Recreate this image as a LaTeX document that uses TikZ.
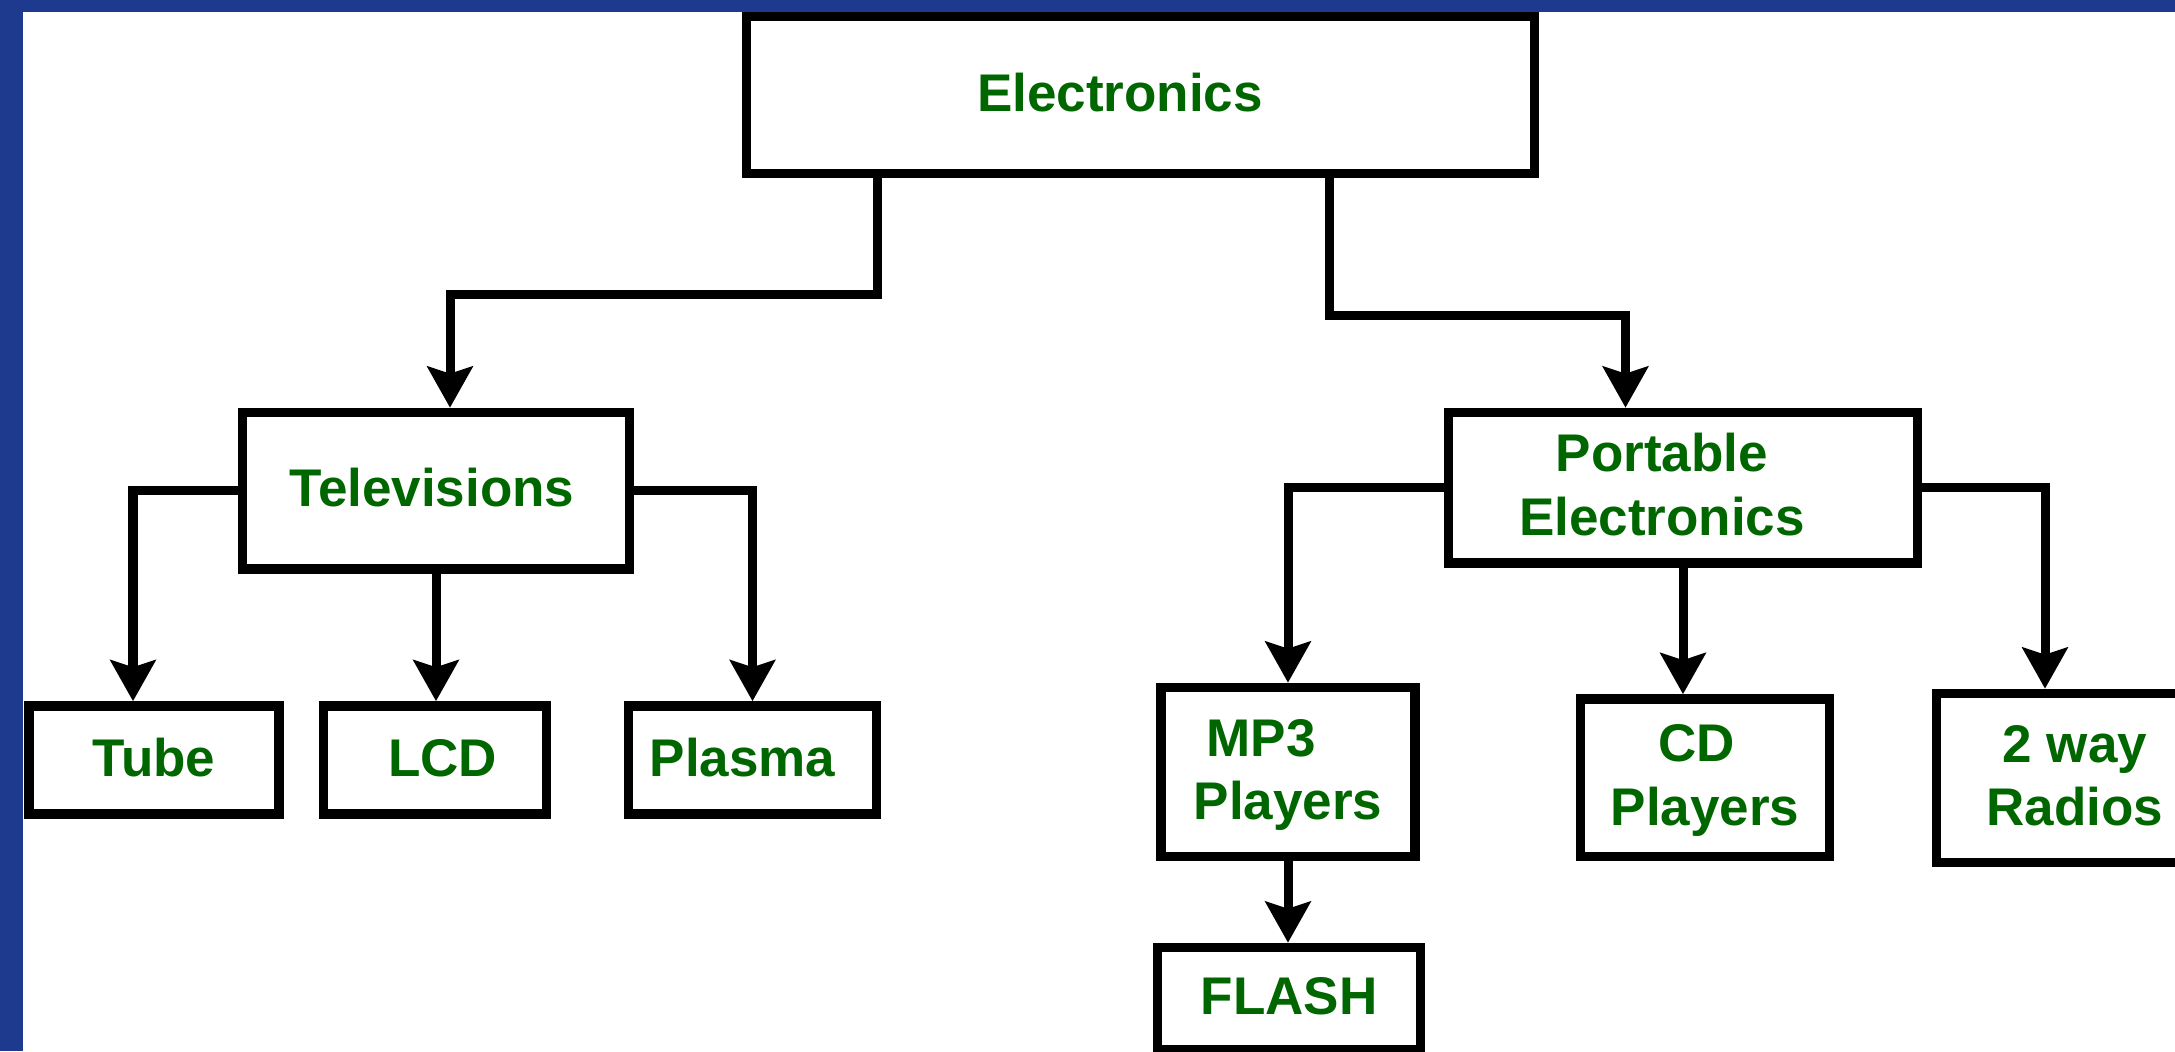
\documentclass[tikz,border=0pt]{standalone}
\usepackage{fontspec}
\setmainfont{Liberation Sans}
\usetikzlibrary{arrows.meta}
\definecolor{frameblue}{RGB}{30,58,143}
\definecolor{txtgreen}{RGB}{0,102,0}
\newcommand{\ls}{\rule[-0.246em]{0pt}{1.096em}}
\begin{document}
\begin{tikzpicture}[x=0.01cm,y=-0.01cm,
  box/.style={draw=black,line width=0.095cm,fill=white,inner sep=0pt,rectangle,
    text=txtgreen,font=\bfseries\fontsize{15.08pt}{18.1pt}\selectfont,align=center},
  conn/.style={line width=0.09cm,-{Stealth[length=0.41cm,width=0.45cm,inset=0.07cm]}}]
\useasboundingbox (0,0) rectangle (2175,1051);
\clip (0,0) rectangle (2175,1051);
\fill[white] (0,0) rectangle (2175,1051);

\node[box,minimum width=7.88cm,minimum height=1.57cm] (elec) at (1140.5,95) {\ls Electronics\hspace*{0.41cm}};
\node[box,minimum width=3.865cm,minimum height=1.565cm] (tv) at (436,490.75) {\ls Televisions\hspace*{0.08cm}};
\node[box,minimum width=2.5cm,minimum height=1.08cm] (tube) at (154,760) {\ls Tube};
\node[box,minimum width=2.23cm,minimum height=1.08cm] (lcd) at (435,760) {\hspace*{0.15cm}\ls LCD};
\node[box,minimum width=2.48cm,minimum height=1.08cm] (plasma) at (752.5,760) {\ls Plasma\hspace*{0.2cm}};
\node[box,minimum width=4.69cm,minimum height=1.505cm] (port) at (1683,487.75) {\ls Portable\hspace*{0.42cm}\\\ls Electronics\hspace*{0.42cm}};
\node[box,minimum width=2.54cm,minimum height=1.69cm] (mp3) at (1288,772) {\ls MP3\hspace*{0.54cm}\\\ls Players};
\node[box,minimum width=2.49cm,minimum height=1.575cm] (cd) at (1705,777.75) {\ls CD\hspace*{0.17cm}\\\ls Players};
\node[box,minimum width=2.77cm,minimum height=1.69cm] (radio) at (2075,778) {\ls 2 way\\\ls Radios};
\node[box,minimum width=2.625cm,minimum height=1.025cm] (flash) at (1289,998.75) {\ls FLASH};

\coordinate (e1) at (877,294.5);
\coordinate (e2) at (1329.5,315.5);
\coordinate (tvx) at (450,0);
\coordinate (ptx) at (1625.5,0);
\coordinate (tubex) at (133,0);
\coordinate (radx) at (2045,0);

\draw[conn] (elec.south -| e1) -- (e1) -| (tv.north -| tvx);
\draw[conn] (elec.south -| e2) -- (e2) -| (port.north -| ptx);
\draw[conn] (tv.west) -| (tube.north -| tubex);
\draw[conn] (tv.south) -- (tv.south |- lcd.north);
\draw[conn] (tv.east) -| (plasma.north);
\draw[conn] (port.west) -| (mp3.north);
\draw[conn] (port.south) -- (port.south |- cd.north);
\draw[conn] (port.east) -| (radio.north -| radx);
\draw[conn] (mp3.south) -- (mp3.south |- flash.north);

\fill[frameblue] (0,0) rectangle (2175,12);
\fill[frameblue] (0,0) rectangle (23,1051);
\end{tikzpicture}
\end{document}
